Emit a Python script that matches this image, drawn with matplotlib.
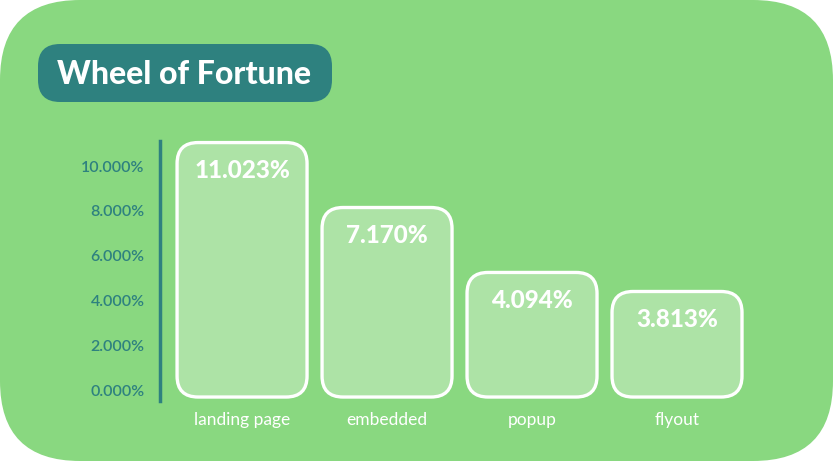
import matplotlib.pyplot as plt
from matplotlib.patches import FancyBboxPatch

# data
categories = ["landing page", "embedded", "popup", "flyout"]
rates = [11.023, 7.170, 4.094, 3.813]           # labels shown on the bars (%)
bar_tops = [11.05, 8.15, 5.25, 4.40]            # bar heights (%)
yticks = [0, 2, 4, 6, 8, 10]

BG = "#89d880"
BAR = "#ade3a6"
TEAL = "#2e817f"

fig = plt.figure(figsize=(8.34, 4.62), dpi=100)
fig.patch.set_facecolor("white")

# background card + title pill, drawn in pixel coordinates
bg = fig.add_axes([0, 0, 1, 1])
bg.set_xlim(0, 834)
bg.set_ylim(462, 0)
bg.axis("off")
bg.add_patch(FancyBboxPatch((0, 0), 833, 461, boxstyle="round,pad=0,rounding_size=80",
                            fc=BG, ec="none"))
bg.add_patch(FancyBboxPatch((38, 44), 294, 58, boxstyle="round,pad=0,rounding_size=22",
                            fc=TEAL, ec="none"))
bg.text(57, 74, "Wheel of Fortune", color="white", fontsize=23, fontweight="black",
        family="Lato", va="center", ha="left")

# chart axes
ax = fig.add_axes([160 / 834, 61 / 462, 633 / 834, 260 / 462])
ax.set_facecolor("none")
ax.set_xlim(-0.566, 3.8)
ax.set_ylim(-0.49, 11.12)

px_x = 145.0   # pixels per x unit
px_y = 22.4    # pixels per y unit
width = 130 / px_x
bottom = -7 / px_y
for i, (top, rate) in enumerate(zip(bar_tops, rates)):
    p = FancyBboxPatch((i - width / 2, bottom), width, top - bottom,
                       boxstyle="round,pad=0,rounding_size=%f" % (21 / px_x),
                       mutation_aspect=px_x / px_y,
                       fc=BAR, ec="white", lw=2.4, clip_on=False)
    ax.add_patch(p)
    ax.text(i, top - 28 / px_y, f"{rate:.3f}%", ha="center", va="center",
            color="white", fontsize=17.5, fontweight="black", family="Lato", clip_on=False)

ax.set_xticks(range(len(categories)))
ax.set_xticklabels(categories, color="white", fontsize=12.5, family="Lato")
ax.set_yticks(yticks)
ax.set_yticklabels([f"{v:.3f}%" for v in yticks], color=TEAL, fontsize=11.5,
                   family="Lato", fontweight="semibold")
ax.tick_params(axis="x", length=0, pad=8)
ax.tick_params(axis="y", length=0, pad=11)

for s in ["top", "right", "bottom"]:
    ax.spines[s].set_visible(False)
ax.spines["left"].set_color(TEAL)
ax.spines["left"].set_linewidth(2.5)

fig.savefig("out.png", dpi=100)
